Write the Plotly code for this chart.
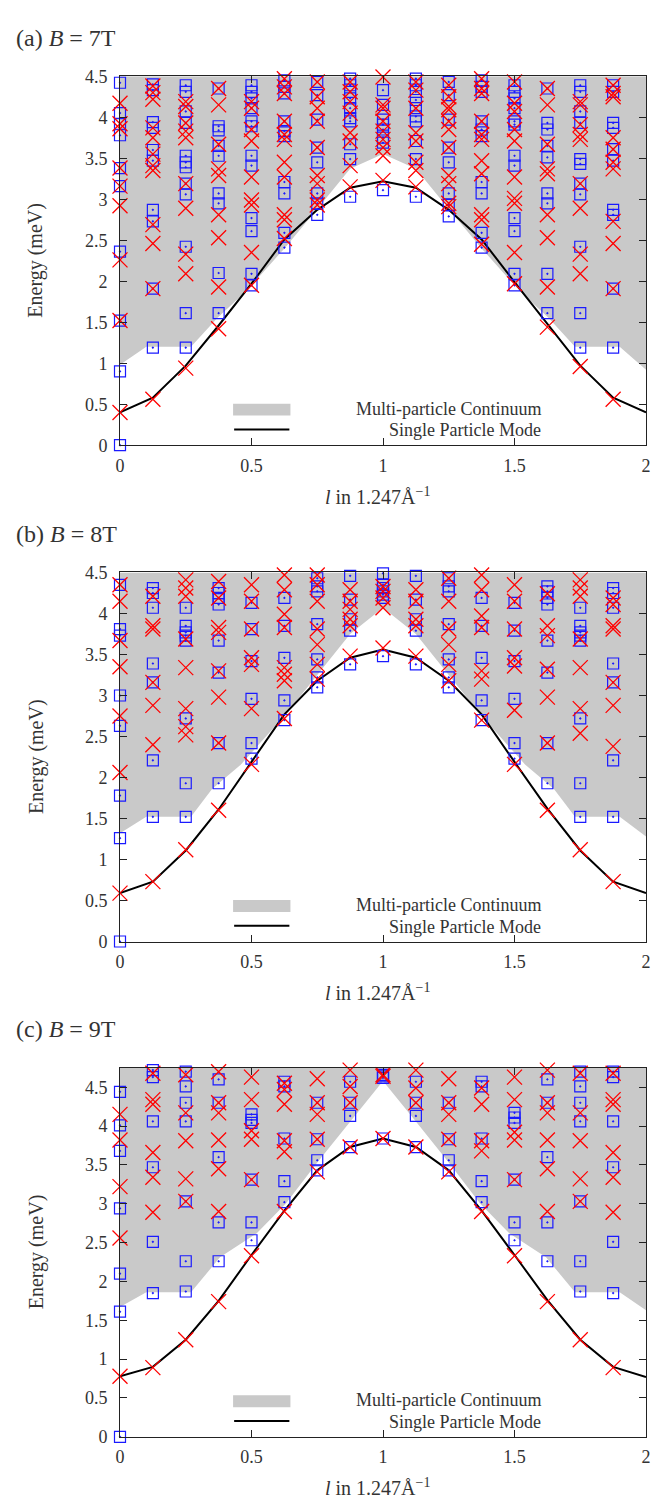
import plotly.graph_objects as go

# ---------------- data ----------------
L_COLS = [0, 0.125, 0.25, 0.375, 0.5, 0.625, 0.75, 0.875, 1.0,
          1.125, 1.25, 1.375, 1.5, 1.625, 1.75, 1.875]
L_LINE = [0, 0.125, 0.25, 0.375, 0.5, 0.625, 0.75, 0.875, 1.0,
          1.125, 1.25, 1.375, 1.5, 1.625, 1.75, 1.875, 2.0]

# ---- (a) B = 7T ----
sq_a = [
    [4.42, 4.05, 3.92, 3.78, 3.38, 3.16, 2.36, 1.52, 0.90, 0.0],
    [4.40, 4.33, 3.94, 3.87, 3.60, 3.47, 2.87, 2.73, 1.91, 1.19],
    [4.39, 4.31, 4.07, 3.93, 3.53, 3.45, 3.39, 3.19, 3.06, 2.42, 1.61, 1.19],
    [4.35, 3.89, 3.84, 3.65, 3.53, 3.07, 2.95, 2.10, 1.61],
    [4.39, 4.31, 4.23, 4.11, 3.95, 3.89, 3.53, 3.41, 2.77, 2.61, 2.09, 1.95],
    [4.45, 4.37, 4.29, 3.95, 3.83, 3.77, 3.21, 3.07, 2.59, 2.41],
    [4.43, 4.27, 3.97, 3.63, 3.45, 3.07, 2.95, 2.81],
    [4.47, 4.39, 4.31, 4.23, 4.11, 3.99, 3.95, 3.67, 3.49, 3.03],
    [4.33, 4.15, 3.97, 3.91, 3.85, 3.75, 3.69, 3.11],
    [4.47, 4.39, 4.31, 4.21, 4.11, 4.01, 3.95, 3.71, 3.49, 3.03],
    [4.43, 4.27, 3.97, 3.63, 3.45, 3.07, 2.93, 2.79],
    [4.45, 4.37, 4.31, 3.95, 3.85, 3.77, 3.21, 3.07, 2.59, 2.41],
    [4.39, 4.31, 4.23, 4.11, 3.95, 3.91, 3.53, 3.41, 2.77, 2.61, 2.09, 1.95],
    [4.35, 3.93, 3.85, 3.65, 3.51, 3.07, 2.95, 2.09, 1.61],
    [4.39, 4.31, 4.07, 3.93, 3.49, 3.43, 3.19, 3.06, 2.42, 1.61, 1.19],
    [4.39, 4.31, 3.93, 3.87, 3.61, 3.47, 2.87, 2.81, 1.91, 1.19],
]
x_a = [
    [4.17, 3.92, 3.86, 3.38, 3.16, 2.92, 2.26, 1.52, 0.40],
    [4.38, 4.30, 4.22, 3.87, 3.75, 3.55, 3.41, 3.35, 2.69, 2.46, 1.91, 0.56],
    [4.19, 4.13, 3.93, 3.83, 3.75, 3.19, 2.89, 2.33, 2.09, 0.94],
    [4.35, 4.15, 3.67, 3.37, 3.29, 2.81, 2.53, 1.93, 1.42],
    [4.19, 4.11, 3.85, 3.71, 3.27, 2.99, 2.93, 2.35, 1.95],
    [4.47, 4.37, 4.29, 3.95, 3.79, 3.73, 3.45, 3.27, 2.81, 2.75, 2.52],
    [4.43, 4.25, 4.11, 3.95, 3.63, 3.29, 3.19, 2.99, 2.93],
    [4.43, 4.31, 4.19, 4.05, 3.81, 3.71, 3.41, 3.15],
    [4.49, 4.15, 4.11, 3.95, 3.83, 3.73, 3.63, 3.53, 3.23],
    [4.43, 4.33, 4.11, 3.81, 3.71, 3.45, 3.35, 3.15],
    [4.39, 4.25, 4.13, 4.09, 3.95, 3.85, 3.63, 3.29, 3.19, 2.95, 2.91],
    [4.47, 4.35, 4.29, 3.95, 3.79, 3.73, 3.47, 3.31, 2.81, 2.75, 2.45],
    [4.43, 4.17, 4.07, 3.85, 3.71, 3.27, 3.01, 2.95, 2.35, 1.97],
    [4.35, 4.15, 3.67, 3.37, 3.31, 2.81, 2.53, 1.93, 1.44],
    [4.19, 4.15, 3.91, 3.79, 3.73, 3.19, 2.89, 2.33, 2.09, 0.96],
    [4.39, 4.29, 4.25, 3.75, 3.61, 3.45, 3.37, 2.73, 2.46, 1.91, 0.56],
]
line_a = [0.40, 0.58, 0.97, 1.46, 1.97, 2.51, 2.87, 3.14, 3.22,
          3.14, 2.87, 2.51, 1.99, 1.48, 0.97, 0.58, 0.40]
cont_x_a = [0, 0.10, 0.27, 0.37, 0.48, 0.625, 0.75, 0.875, 1.0,
            1.125, 1.25, 1.375, 1.52, 1.63, 1.73, 1.90, 2.0]
cont_lo_a = [0.98, 1.20, 1.20, 1.55, 1.88, 2.40, 2.88, 3.37, 3.55,
             3.37, 2.88, 2.40, 1.88, 1.55, 1.20, 1.20, 0.92]

# ---- (b) B = 8T ----
sq_b = [
    [4.35, 3.81, 3.73, 3.00, 2.63, 1.78, 1.26, 0.0],
    [4.31, 4.25, 4.07, 3.39, 3.16, 2.21, 1.52],
    [4.07, 3.85, 3.77, 3.73, 3.67, 2.72, 1.93, 1.52],
    [4.31, 4.25, 4.19, 4.11, 3.67, 3.28, 2.42, 1.93],
    [4.13, 3.81, 3.42, 2.96, 2.42, 2.23],
    [4.19, 3.85, 3.46, 2.94, 2.70],
    [4.43, 4.33, 4.27, 3.87, 3.44, 3.22, 3.10],
    [4.46, 4.17, 3.93, 3.79, 3.38],
    [4.49, 4.35, 4.31, 4.27, 4.23, 4.19, 3.48],
    [4.46, 4.17, 3.93, 3.79, 3.38],
    [4.43, 4.33, 4.27, 3.87, 3.44, 3.22, 3.10],
    [4.19, 3.85, 3.46, 2.94, 2.70],
    [4.13, 3.79, 3.42, 2.96, 2.42, 2.23],
    [4.33, 4.27, 4.19, 4.11, 3.67, 3.28, 2.42, 1.93],
    [4.07, 3.85, 3.77, 3.73, 3.67, 2.72, 1.93, 1.52],
    [4.31, 4.25, 4.07, 3.39, 3.16, 2.21, 1.52],
]
x_b = [
    [4.35, 4.15, 3.67, 3.35, 2.75, 2.06, 0.59],
    [4.21, 3.85, 3.81, 3.16, 2.88, 2.40, 0.73],
    [4.41, 4.31, 4.21, 3.69, 3.34, 2.84, 2.62, 2.52, 1.12],
    [4.39, 4.19, 3.83, 3.77, 3.30, 2.98, 2.42, 1.60],
    [4.35, 4.15, 3.81, 3.46, 3.38, 2.84, 2.16],
    [4.47, 4.29, 3.99, 3.83, 3.34, 3.26, 3.18, 2.72],
    [4.47, 4.35, 4.15, 3.81, 3.62, 3.38, 3.20],
    [4.29, 4.15, 4.05, 3.93, 3.85, 3.48],
    [4.33, 4.27, 4.19, 4.07, 3.58],
    [4.29, 4.15, 3.93, 3.85, 3.48],
    [4.43, 4.15, 3.81, 3.62, 3.38, 3.18],
    [4.47, 4.29, 3.97, 3.83, 3.30, 3.20, 2.70],
    [4.35, 4.15, 3.81, 3.46, 3.36, 2.82, 2.16],
    [4.24, 3.85, 3.73, 3.32, 2.98, 2.42, 1.60],
    [4.41, 4.31, 4.21, 3.69, 3.34, 2.84, 2.54, 1.12],
    [4.19, 4.11, 3.85, 3.81, 3.16, 2.88, 2.38, 0.73],
]
line_b = [0.59, 0.73, 1.11, 1.61, 2.19, 2.77, 3.18, 3.46, 3.56,
          3.46, 3.18, 2.77, 2.19, 1.62, 1.11, 0.73, 0.59]
cont_x_b = [0, 0.10, 0.27, 0.35, 0.46, 0.625, 0.75, 0.875, 1.0,
            1.125, 1.25, 1.375, 1.54, 1.65, 1.73, 1.90, 2.0]
cont_lo_b = [1.32, 1.52, 1.52, 1.86, 2.16, 2.75, 3.25, 3.75, 4.07,
             3.75, 3.25, 2.75, 2.16, 1.86, 1.52, 1.52, 1.28]

# ---- (c) B = 9T ----
sq_c = [
    [4.44, 4.01, 3.68, 2.94, 2.10, 1.61, 0.0],
    [4.72, 4.63, 4.06, 3.47, 2.51, 1.85],
    [4.70, 4.51, 4.30, 4.06, 3.03, 2.26, 1.87],
    [4.60, 4.30, 3.60, 2.76, 2.26],
    [4.15, 4.08, 4.04, 3.31, 2.76, 2.53],
    [4.57, 4.51, 3.84, 3.29, 3.02],
    [4.30, 3.83, 3.56, 3.43],
    [4.57, 4.30, 4.13, 3.73],
    [4.62, 4.64, 4.66, 3.84],
    [4.57, 4.30, 4.13, 3.73],
    [4.30, 3.83, 3.56, 3.43],
    [4.57, 4.51, 3.84, 3.29, 3.02],
    [4.17, 4.11, 4.04, 3.31, 2.76, 2.53],
    [4.60, 4.30, 3.60, 2.76, 2.26],
    [4.70, 4.51, 4.30, 4.06, 3.03, 2.26, 1.87],
    [4.70, 4.63, 4.06, 3.47, 2.51, 1.85],
]
x_c = [
    [4.15, 3.82, 3.22, 2.56, 0.78],
    [4.68, 4.34, 4.28, 3.66, 3.34, 2.89, 0.89],
    [4.66, 4.17, 3.81, 3.32, 3.03, 1.25],
    [4.70, 4.30, 4.17, 3.82, 3.45, 2.90, 1.74],
    [4.63, 4.34, 3.94, 3.83, 3.31, 2.33],
    [4.55, 4.47, 4.28, 3.81, 3.67, 2.90],
    [4.61, 4.30, 4.15, 3.83, 3.41],
    [4.72, 4.51, 4.30, 3.73],
    [4.64, 4.66, 3.84],
    [4.72, 4.49, 4.30, 3.73],
    [4.61, 4.30, 4.15, 3.83, 3.41],
    [4.49, 4.28, 3.81, 3.68, 2.90],
    [4.63, 4.34, 3.92, 3.82, 3.31, 2.33],
    [4.72, 4.30, 4.17, 3.82, 3.45, 2.90, 1.74],
    [4.68, 4.17, 3.81, 3.32, 3.03, 1.25],
    [4.68, 4.34, 4.28, 3.66, 3.34, 2.89, 0.89],
]
line_c = [0.78, 0.90, 1.25, 1.75, 2.34, 2.91, 3.43, 3.73, 3.84,
          3.73, 3.43, 2.91, 2.34, 1.76, 1.25, 0.90, 0.77]
cont_x_c = [0, 0.10, 0.27, 0.38, 0.52, 0.63, 0.75, 0.875, 1.0,
            1.125, 1.25, 1.37, 1.48, 1.62, 1.73, 1.90, 2.0]
cont_lo_c = [1.67, 1.86, 1.86, 2.31, 2.62, 3.00, 3.53, 4.06, 4.58,
             4.06, 3.53, 3.00, 2.62, 2.31, 1.86, 1.86, 1.63]

PANEL_TITLES = ["(a) <i>B</i> = 7T", "(b) <i>B</i> = 8T", "(c) <i>B</i> = 9T"]
Y_MAX = [4.5, 4.5, 4.75]
X_TICKS = [0, 0.5, 1, 1.5, 2]
X_TICKTEXT = ["0", "0.5", "1", "1.5", "2"]
Y_TICKS = [0, 0.5, 1, 1.5, 2, 2.5, 3, 3.5, 4, 4.5]
Y_TICKTEXT = ["0", "0.5", "1", "1.5", "2", "2.5", "3", "3.5", "4", "4.5"]
LEGEND_LABELS = ["Multi-particle Continuum", "Single Particle Mode"]
X_TITLE = "<i>l</i> in 1.247Å<sup>−1</sup>"
Y_TITLE = "Energy (meV)"

# ---------------- styling ----------------
W, H = 660, 1498
ML, MR = 112, 22
FONT = "Liberation Serif"
TXT = "#333333"
GREY = "#c9c9c9"
PANEL_PIX = [(59, 433), (562, 936), (1064, 1438)]

panels = [
    (sq_a, x_a, line_a, cont_x_a, cont_lo_a),
    (sq_b, x_b, line_b, cont_x_b, cont_lo_b),
    (sq_c, x_c, line_c, cont_x_c, cont_lo_c),
]

fig = go.Figure()
layout = dict(
    width=W, height=H, plot_bgcolor="white", paper_bgcolor="white",
    margin=dict(l=ML, r=MR, t=0, b=0), showlegend=False,
    font=dict(family=FONT, size=18, color=TXT),
)
annotations = []
shapes = []


def flat(cols):
    xs, ys = [], []
    for lv, col in zip(L_COLS, cols):
        for e in col:
            xs.append(lv)
            ys.append(e)
    return xs, ys


for i, (sq, xx, ln, cx, clo) in enumerate(panels):
    n = "" if i == 0 else str(i + 1)
    xa, ya = "x" + n, "y" + n
    top, bot = PANEL_PIX[i]
    ph = bot - top
    dom = [1 - bot / H, 1 - top / H]
    ymax = Y_MAX[i]

    fx = cx + [cx[-1], cx[0]]
    fy = clo + [ymax, ymax]
    fig.add_trace(go.Scatter(x=fx, y=fy, mode="lines", fill="toself",
                             fillcolor=GREY, line=dict(width=0),
                             xaxis=xa, yaxis=ya, hoverinfo="skip"))
    fig.add_trace(go.Scatter(x=L_LINE, y=ln, mode="lines",
                             line=dict(color="black", width=2),
                             xaxis=xa, yaxis=ya))
    sx, sy = flat(sq)
    fig.add_trace(go.Scatter(x=sx, y=sy, mode="markers", cliponaxis=False,
                             marker=dict(symbol="square-open-dot", size=11,
                                         color="#1a1aff",
                                         line=dict(width=1.2, color="#1a1aff")),
                             xaxis=xa, yaxis=ya))
    cxs, cys = flat(xx)
    fig.add_trace(go.Scatter(x=cxs, y=cys, mode="markers", cliponaxis=False,
                             marker=dict(symbol="x-thin-open", size=15,
                                         color="#ff0000",
                                         line=dict(width=1.3, color="#ff0000")),
                             xaxis=xa, yaxis=ya))

    axis_common = dict(showgrid=False, zeroline=False, showline=True,
                       linecolor="#222222", linewidth=1, mirror="ticks",
                       ticks="inside", ticklen=7, tickcolor="#222222",
                       tickfont=dict(family=FONT, size=18, color=TXT))
    layout["xaxis" + n] = dict(axis_common, domain=[0, 1], range=[0, 2],
                               tickvals=X_TICKS, ticktext=X_TICKTEXT,
                               anchor=ya, ticklabelstandoff=4)
    layout["yaxis" + n] = dict(axis_common, domain=dom, range=[0, ymax],
                               tickvals=Y_TICKS, ticktext=Y_TICKTEXT,
                               anchor=xa, ticklabelstandoff=8)

    xr, yr = xa + " domain", ya + " domain"
    annotations.append(dict(text=PANEL_TITLES[i], xref=xr, yref=yr,
                            x=(6 - ML) / (W - ML - MR), y=1 + 39 / ph,
                            xanchor="left", yanchor="middle", showarrow=False,
                            font=dict(family=FONT, size=24, color=TXT)))
    annotations.append(dict(text=X_TITLE, xref=xr, yref=yr, x=0.49,
                            y=-51 / ph, xanchor="center", yanchor="middle",
                            showarrow=False,
                            font=dict(family=FONT, size=20, color=TXT)))
    annotations.append(dict(text=Y_TITLE, xref=xr, yref=yr,
                            x=(28 - ML) / (W - ML - MR), y=0.5,
                            xanchor="center", yanchor="middle", textangle=-90,
                            showarrow=False,
                            font=dict(family=FONT, size=20, color=TXT)))
    annotations.append(dict(text=LEGEND_LABELS[0], xref=xr, yref=yr,
                            x=0.805, y=37 / ph, xanchor="right",
                            yanchor="middle", showarrow=False,
                            font=dict(family=FONT, size=18, color=TXT)))
    annotations.append(dict(text=LEGEND_LABELS[1], xref=xr, yref=yr,
                            x=0.805, y=15 / ph, xanchor="right",
                            yanchor="middle", showarrow=False,
                            font=dict(family=FONT, size=18, color=TXT)))
    shapes.append(dict(type="rect", xref=xr, yref=yr, x0=0.215, x1=0.324,
                       y0=30 / ph, y1=42 / ph, fillcolor=GREY,
                       line=dict(width=0)))
    shapes.append(dict(type="line", xref=xr, yref=yr, x0=0.217, x1=0.322,
                       y0=16 / ph, y1=16 / ph,
                       line=dict(color="black", width=2)))

layout["annotations"] = annotations
layout["shapes"] = shapes
fig.update_layout(**layout)
fig.write_html("out.html")
